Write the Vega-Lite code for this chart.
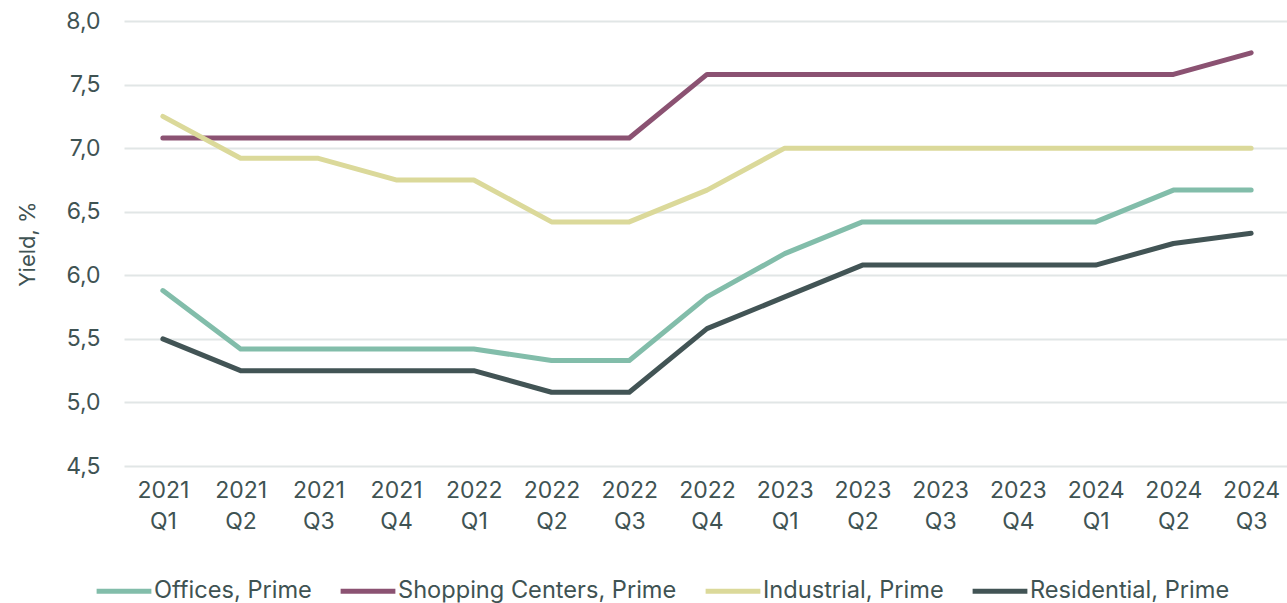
{
  "$schema": "https://vega.github.io/schema/vega-lite/v6.json",
  "width": 1166,
  "height": 445,
  "autosize": {"type": "none"},
  "padding": {"left": 124, "top": 21, "right": 0, "bottom": 137},
  "background": "white",
  "config": {
    "view": {"stroke": null},
    "font": "Inter",
    "axis": {"labelColor": "#3f5353", "titleColor": "#3f5353", "labelFont": "Inter", "titleFont": "Inter"},
    "legend": {"labelColor": "#3f5353", "labelFont": "Inter"}
  },
  "data": {
    "values": [
      {"q": "2021 Q1", "s": "Offices, Prime", "v": 5.88},
      {"q": "2021 Q2", "s": "Offices, Prime", "v": 5.42},
      {"q": "2021 Q3", "s": "Offices, Prime", "v": 5.42},
      {"q": "2021 Q4", "s": "Offices, Prime", "v": 5.42},
      {"q": "2022 Q1", "s": "Offices, Prime", "v": 5.42},
      {"q": "2022 Q2", "s": "Offices, Prime", "v": 5.33},
      {"q": "2022 Q3", "s": "Offices, Prime", "v": 5.33},
      {"q": "2022 Q4", "s": "Offices, Prime", "v": 5.83},
      {"q": "2023 Q1", "s": "Offices, Prime", "v": 6.17},
      {"q": "2023 Q2", "s": "Offices, Prime", "v": 6.42},
      {"q": "2023 Q3", "s": "Offices, Prime", "v": 6.42},
      {"q": "2023 Q4", "s": "Offices, Prime", "v": 6.42},
      {"q": "2024 Q1", "s": "Offices, Prime", "v": 6.42},
      {"q": "2024 Q2", "s": "Offices, Prime", "v": 6.67},
      {"q": "2024 Q3", "s": "Offices, Prime", "v": 6.67},
      {"q": "2021 Q1", "s": "Shopping Centers, Prime", "v": 7.08},
      {"q": "2021 Q2", "s": "Shopping Centers, Prime", "v": 7.08},
      {"q": "2021 Q3", "s": "Shopping Centers, Prime", "v": 7.08},
      {"q": "2021 Q4", "s": "Shopping Centers, Prime", "v": 7.08},
      {"q": "2022 Q1", "s": "Shopping Centers, Prime", "v": 7.08},
      {"q": "2022 Q2", "s": "Shopping Centers, Prime", "v": 7.08},
      {"q": "2022 Q3", "s": "Shopping Centers, Prime", "v": 7.08},
      {"q": "2022 Q4", "s": "Shopping Centers, Prime", "v": 7.58},
      {"q": "2023 Q1", "s": "Shopping Centers, Prime", "v": 7.58},
      {"q": "2023 Q2", "s": "Shopping Centers, Prime", "v": 7.58},
      {"q": "2023 Q3", "s": "Shopping Centers, Prime", "v": 7.58},
      {"q": "2023 Q4", "s": "Shopping Centers, Prime", "v": 7.58},
      {"q": "2024 Q1", "s": "Shopping Centers, Prime", "v": 7.58},
      {"q": "2024 Q2", "s": "Shopping Centers, Prime", "v": 7.58},
      {"q": "2024 Q3", "s": "Shopping Centers, Prime", "v": 7.75},
      {"q": "2021 Q1", "s": "Industrial, Prime", "v": 7.25},
      {"q": "2021 Q2", "s": "Industrial, Prime", "v": 6.92},
      {"q": "2021 Q3", "s": "Industrial, Prime", "v": 6.92},
      {"q": "2021 Q4", "s": "Industrial, Prime", "v": 6.75},
      {"q": "2022 Q1", "s": "Industrial, Prime", "v": 6.75},
      {"q": "2022 Q2", "s": "Industrial, Prime", "v": 6.42},
      {"q": "2022 Q3", "s": "Industrial, Prime", "v": 6.42},
      {"q": "2022 Q4", "s": "Industrial, Prime", "v": 6.67},
      {"q": "2023 Q1", "s": "Industrial, Prime", "v": 7.0},
      {"q": "2023 Q2", "s": "Industrial, Prime", "v": 7.0},
      {"q": "2023 Q3", "s": "Industrial, Prime", "v": 7.0},
      {"q": "2023 Q4", "s": "Industrial, Prime", "v": 7.0},
      {"q": "2024 Q1", "s": "Industrial, Prime", "v": 7.0},
      {"q": "2024 Q2", "s": "Industrial, Prime", "v": 7.0},
      {"q": "2024 Q3", "s": "Industrial, Prime", "v": 7.0},
      {"q": "2021 Q1", "s": "Residential, Prime", "v": 5.5},
      {"q": "2021 Q2", "s": "Residential, Prime", "v": 5.25},
      {"q": "2021 Q3", "s": "Residential, Prime", "v": 5.25},
      {"q": "2021 Q4", "s": "Residential, Prime", "v": 5.25},
      {"q": "2022 Q1", "s": "Residential, Prime", "v": 5.25},
      {"q": "2022 Q2", "s": "Residential, Prime", "v": 5.08},
      {"q": "2022 Q3", "s": "Residential, Prime", "v": 5.08},
      {"q": "2022 Q4", "s": "Residential, Prime", "v": 5.58},
      {"q": "2023 Q1", "s": "Residential, Prime", "v": 5.83},
      {"q": "2023 Q2", "s": "Residential, Prime", "v": 6.08},
      {"q": "2023 Q3", "s": "Residential, Prime", "v": 6.08},
      {"q": "2023 Q4", "s": "Residential, Prime", "v": 6.08},
      {"q": "2024 Q1", "s": "Residential, Prime", "v": 6.08},
      {"q": "2024 Q2", "s": "Residential, Prime", "v": 6.25},
      {"q": "2024 Q3", "s": "Residential, Prime", "v": 6.33}
    ]
  },
  "mark": {"type": "line", "strokeWidth": 5, "strokeCap": "round", "strokeJoin": "round"},
  "encoding": {
    "x": {
      "field": "q", "type": "ordinal", "sort": null,
      "scale": {"type": "point", "padding": 0.5},
      "axis": {
        "title": null, "domain": false, "ticks": false, "grid": false,
        "labelAngle": 0, "labelFontSize": 23, "labelPadding": 24,
        "labelLineHeight": 31, "labelBaseline": "middle",
        "labelExpr": "split(datum.label, ' ')"
      }
    },
    "y": {
      "field": "v", "type": "quantitative",
      "scale": {"domain": [4.5, 8], "nice": false, "zero": false},
      "axis": {
        "title": "Yield, %", "titleFontSize": 22, "titleFontWeight": "normal", "titlePadding": 26,
        "values": [4.5, 5, 5.5, 6, 6.5, 7, 7.5, 8],
        "domain": false, "ticks": false, "labelPadding": 24, "labelFontSize": 23,
        "gridColor": "#e1e6e6", "gridWidth": 2,
        "labelExpr": "replace(format(datum.value, '.1f'), '.', ',')"
      }
    },
    "color": {
      "field": "s", "type": "nominal",
      "scale": {
        "domain": ["Offices, Prime", "Shopping Centers, Prime", "Industrial, Prime", "Residential, Prime"],
        "range": ["#82bdaa", "#8b5272", "#dbd99a", "#425455"]
      },
      "legend": {
        "title": null, "orient": "none", "direction": "horizontal", "columns": 4,
        "legendX": -30, "legendY": 540,
        "symbolType": "stroke", "symbolSize": 3000, "symbolStrokeWidth": 5,
        "labelFontSize": 23.6, "labelOffset": 0, "labelLimit": 500, "columnPadding": 18
      }
    }
  }
}
